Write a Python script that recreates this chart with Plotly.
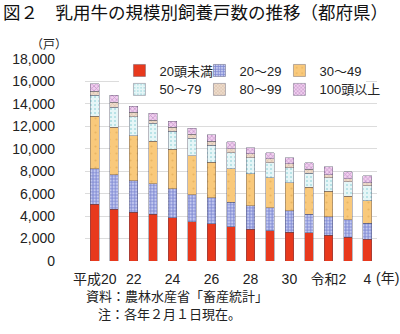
import plotly.graph_objects as go

# 年次（平成20年〜令和4年、各年2月1日現在）
years = ["平成20", "21", "22", "23", "24", "25", "26", "27", "28", "29",
         "30", "令和元", "2", "3", "4"]
tick_years = ["平成20", "22", "24", "26", "28", "30", "2", "4"]
tick_text = ["平成20", "22", "24", "26", "28", "30", "令和2", "4"]

# 規模別飼養戸数（都府県、戸）
under20 = [5040, 4590, 4360, 4180, 3850, 3500, 3320, 3050, 2840, 2700, 2550, 2520, 2310, 2130, 1960]
h20_29 = [3200, 3110, 2810, 2690, 2580, 2400, 2310, 2170, 2080, 2040, 1920, 1660, 1630, 1540, 1390]
h30_49 = [4680, 4240, 4000, 3800, 3530, 3460, 3170, 3020, 2870, 2700, 2520, 2370, 2280, 2110, 2010]
h50_79 = [1870, 1780, 1690, 1600, 1600, 1600, 1510, 1420, 1430, 1330, 1310, 1270, 1190, 1270, 1340]
h80_99 = [350, 440, 390, 290, 350, 330, 360, 360, 320, 360, 350, 360, 260, 300, 290]
over100 = [650, 600, 560, 600, 560, 560, 590, 590, 560, 530, 570, 560, 720, 590, 600]

# (name, values, colour, pattern, legend row, legend entry width)
series = [
    ("20頭未満", under20, "#E8391D", dict(shape="", bgcolor="#E8391D"), "legend", 35),
    ("20～29", h20_29, "#7F8BD6",
     dict(shape="+", bgcolor="#C4CAF0", fgcolor="#3444B2", size=3.2, solidity=0.5), "legend", 35),
    ("30～49", h30_49, "#F9C97B",
     dict(shape=".", bgcolor="#F9C97B", fgcolor="#D9A24E", size=7, solidity=0.08), "legend", None),
    ("50～79", h50_79, "#E4F5F6",
     dict(shape=".", bgcolor="#E6F6F7", fgcolor="#6FC3CC", size=4, solidity=0.2), "legend2", 35),
    ("80～99", h80_99, "#E8D2BE",
     dict(shape="x", bgcolor="#EEDCCB", fgcolor="#B7917A", size=3, solidity=0.3), "legend2", 35),
    ("100頭以上", over100, "#E5B5E3",
     dict(shape="x", bgcolor="#F0CFEE", fgcolor="#9A5AA8", size=3.2, solidity=0.4), "legend2", None),
]

font_family = "Liberation Sans, Arial, Noto Sans CJK JP, sans-serif"
cjk_family = "Noto Sans CJK JP, sans-serif"

fig = go.Figure()
for name, vals, color, pattern, leg, lw in series:
    fig.add_trace(go.Bar(
        x=years, y=vals, name=name, legend=leg, legendwidth=lw,
        marker=dict(color=color, pattern=pattern,
                    line=dict(color="rgba(70,70,90,0.75)", width=0.5)),
    ))

legend_style = dict(
    orientation="h", traceorder="normal",
    x=0.118, xanchor="left", yanchor="top",
    borderwidth=0, itemwidth=30,
    font=dict(family=font_family, size=13, color="#222222"),
)

fig.update_layout(
    width=400, height=334,
    barmode="stack", bargap=0.56,
    margin=dict(l=63, r=23, t=58.5, b=73),
    paper_bgcolor="white", plot_bgcolor="white",
    font=dict(family=font_family, size=14, color="#222222"),
    title=dict(
        text="図２　乳用牛の規模別飼養戸数の推移（都府県）",
        x=3 / 400, xanchor="left", xref="container",
        y=1 - 12.5 / 334, yanchor="middle", yref="container",
        font=dict(family=cjk_family, size=17.5, color="#111111"),
    ),
    showlegend=True,
    # first row keeps a white box that hides the gridline behind both rows
    legend=dict(legend_style, y=1 - (55 - 58.5) / 202.5, bgcolor="white"),
    legend2=dict(legend_style, y=1 - (74 - 58.5) / 202.5, bgcolor="rgba(0,0,0,0)"),
    xaxis=dict(
        type="category", categoryorder="array", categoryarray=years,
        tickmode="array", tickvals=tick_years, ticktext=tick_text,
        showgrid=False, showline=False, zeroline=False, ticks="",
        ticklabelstandoff=8,
        tickfont=dict(size=14),
    ),
    yaxis=dict(
        range=[0, 18000], dtick=2000, tickformat=",d",
        showgrid=True, gridcolor="#DCDCDC", gridwidth=1,
        zeroline=False, showline=False, ticks="",
        ticklabelstandoff=29,
        tickfont=dict(size=14),
    ),
    annotations=[
        dict(text="（戸）", xref="paper", yref="paper",
             x=-60 / 314, xanchor="left",
             y=1 + (58.5 - 42.5) / 202.5, yanchor="middle",
             showarrow=False, font=dict(family=cjk_family, size=12)),
        dict(text="(年)", xref="paper", yref="paper",
             x=(374 - 63) / 314, xanchor="left",
             y=-(278 - 261) / 202.5, yanchor="middle",
             showarrow=False, font=dict(size=14)),
        dict(text="資料：農林水産省「畜産統計」",
             xref="paper", yref="paper",
             x=(62 - 63) / 314, xanchor="left", align="left",
             y=-(296 - 261) / 202.5, yanchor="middle",
             showarrow=False,
             font=dict(family=cjk_family, size=13, color="#222222")),
        dict(text="注：各年２月１日現在。",
             xref="paper", yref="paper",
             x=(75 - 63) / 314, xanchor="left", align="left",
             y=-(314 - 261) / 202.5, yanchor="middle",
             showarrow=False,
             font=dict(family=cjk_family, size=13, color="#222222")),
    ],
)

fig.write_html("out.html")
